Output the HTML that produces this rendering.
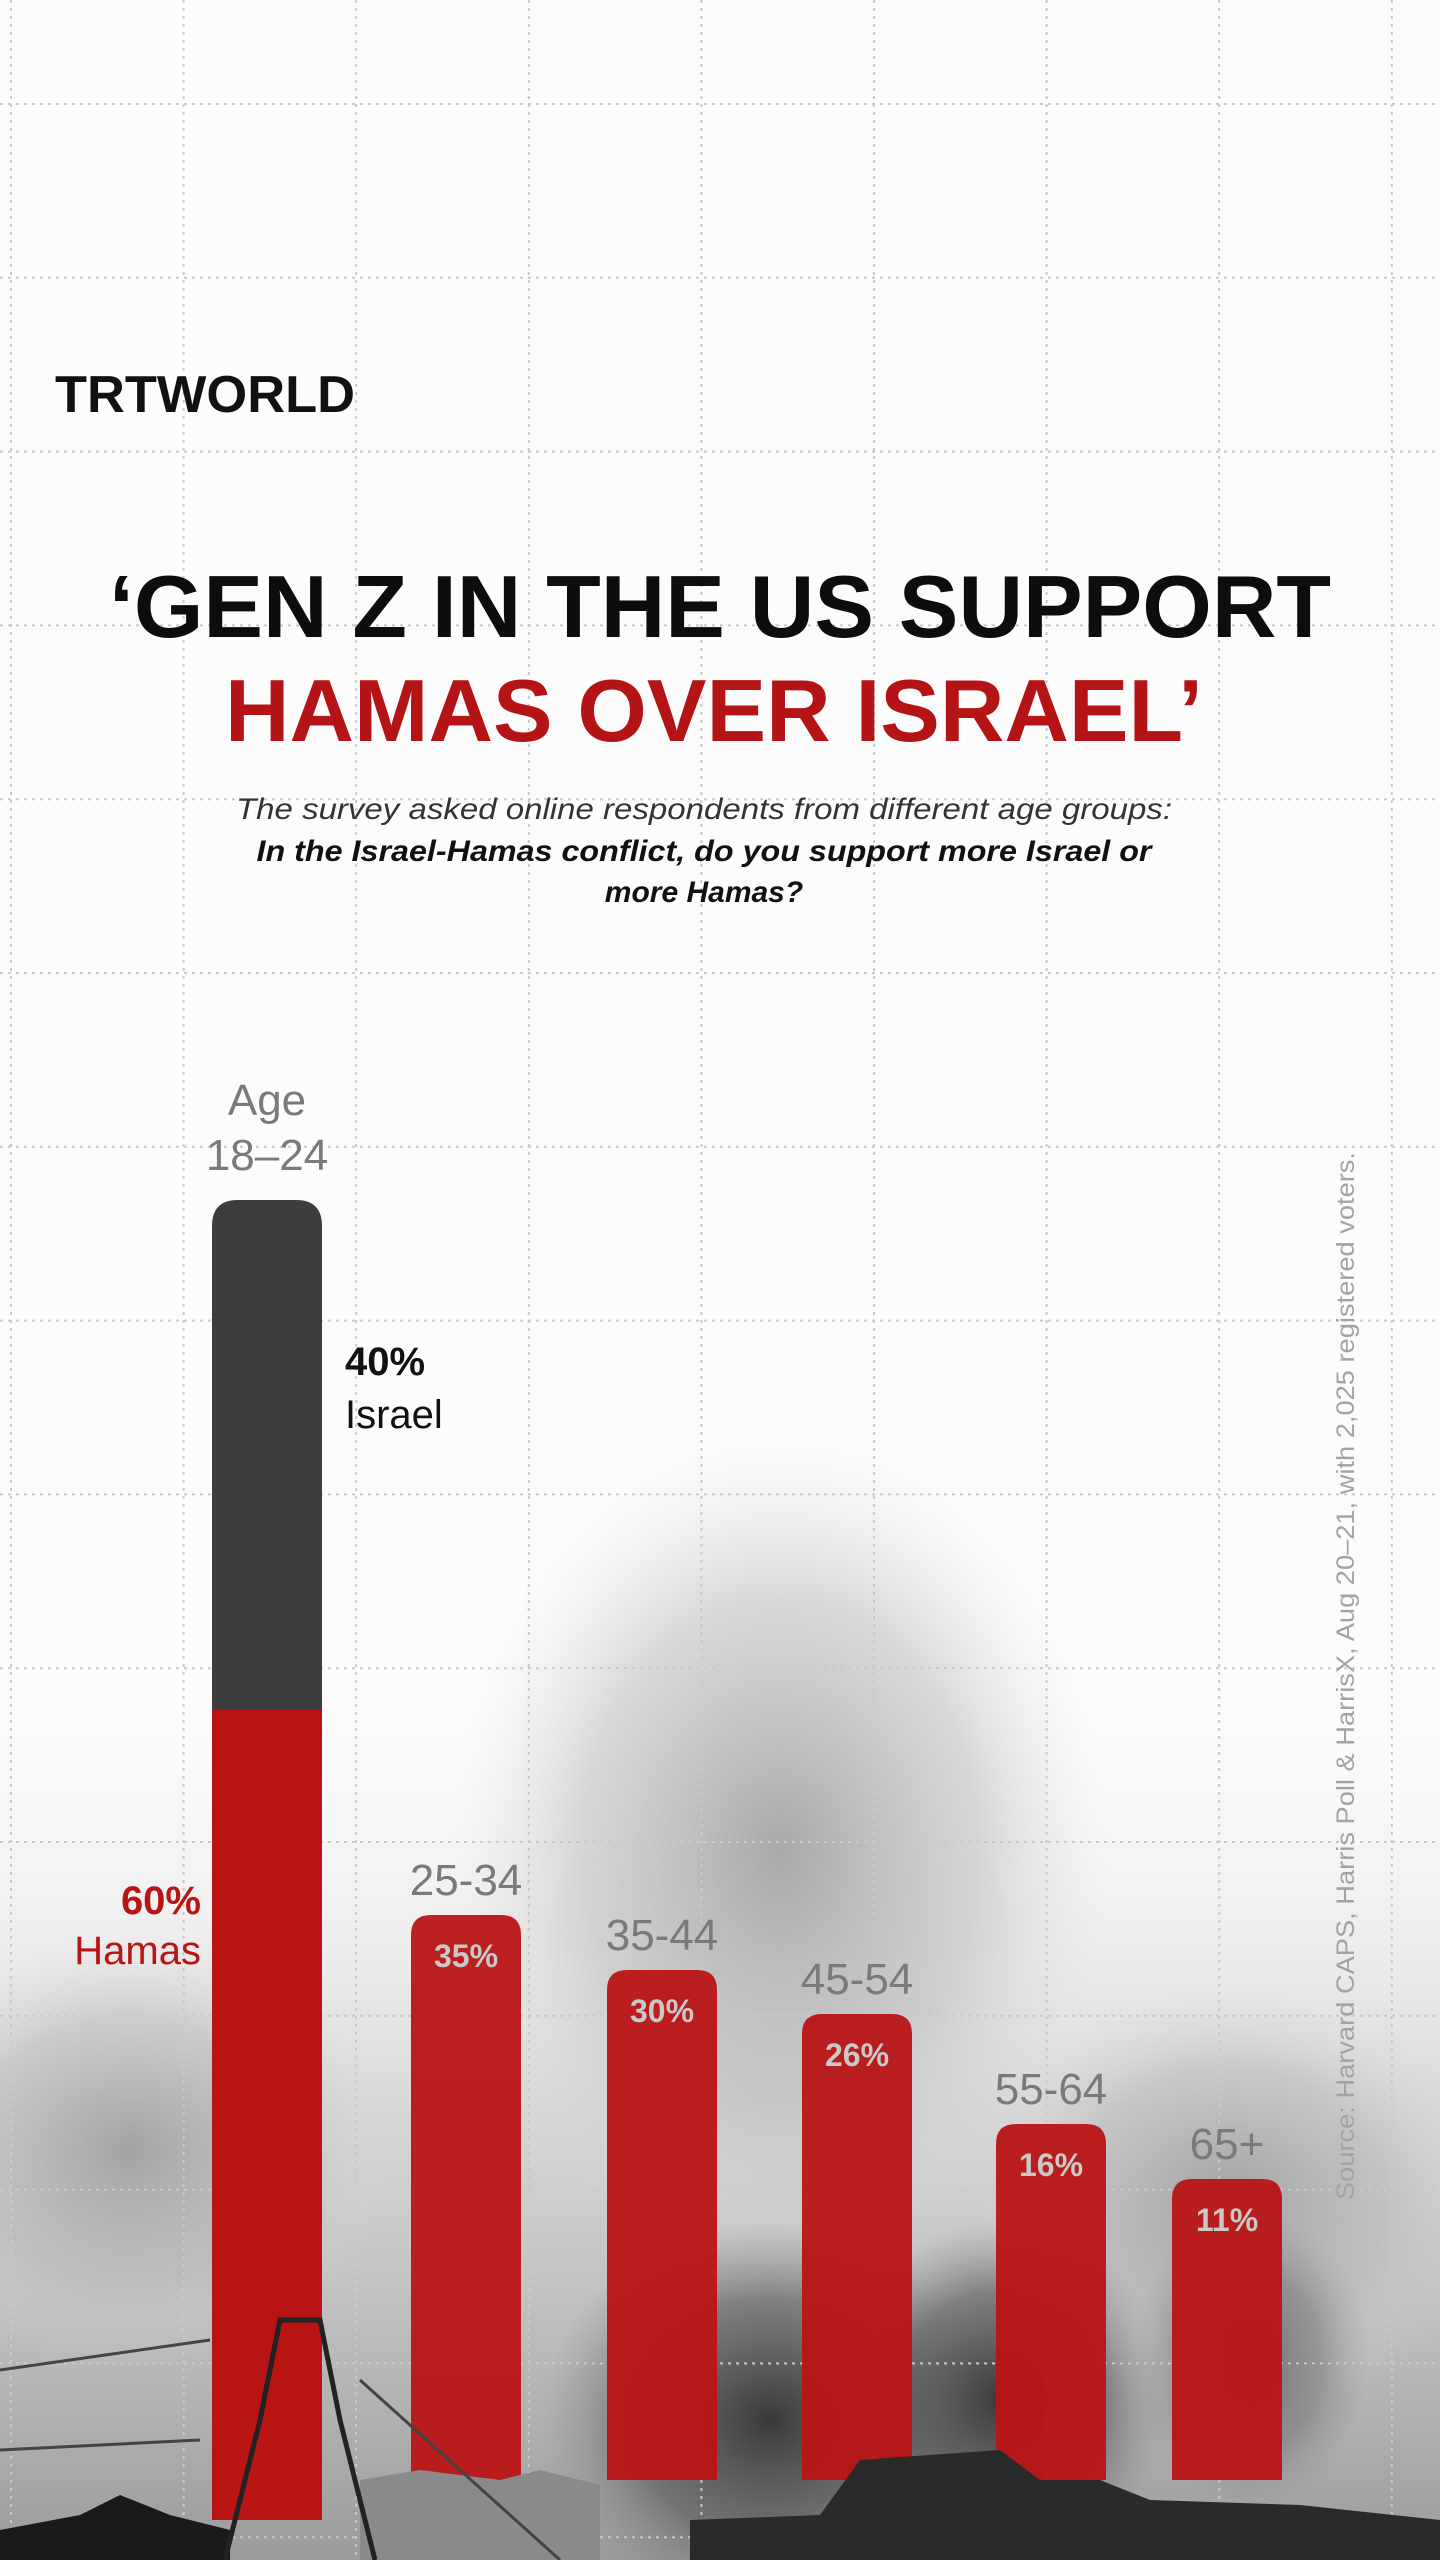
<!DOCTYPE html>
<html><head><meta charset="utf-8"><style>
html,body{margin:0;padding:0;}
body{width:1440px;height:2560px;position:relative;overflow:hidden;background:#fcfcfc;font-family:"Liberation Sans",sans-serif;}
svg{position:absolute;left:0;top:0;}
</style></head><body>
<svg id="chart" width="1440" height="2560" viewBox="0 0 1440 2560">
<defs>
<radialGradient id="smoke1" cx="0.5" cy="0.5" r="0.5"><stop offset="0" stop-color="#9a9a9a" stop-opacity="0.85"/><stop offset="0.6" stop-color="#b5b5b5" stop-opacity="0.5"/><stop offset="1" stop-color="#ddd" stop-opacity="0"/></radialGradient>
<radialGradient id="smoke2" cx="0.5" cy="0.5" r="0.5"><stop offset="0" stop-color="#333" stop-opacity="0.95"/><stop offset="0.6" stop-color="#555" stop-opacity="0.6"/><stop offset="1" stop-color="#888" stop-opacity="0"/></radialGradient>
<linearGradient id="sky" x1="0" y1="0" x2="0" y2="1"><stop offset="0" stop-color="#fcfcfc" stop-opacity="0"/><stop offset="0.5" stop-color="#c8c8c8" stop-opacity="0.7"/><stop offset="1" stop-color="#9a9a9a"/></linearGradient>
</defs>
<g id="bg">
<rect x="0" y="1650" width="1440" height="910" fill="url(#sky)"/>
<ellipse cx="130" cy="2150" rx="260" ry="220" fill="url(#smoke1)"/>
<ellipse cx="780" cy="1850" rx="330" ry="420" fill="url(#smoke1)"/>
<ellipse cx="1230" cy="2200" rx="260" ry="220" fill="url(#smoke1)"/>
<ellipse cx="770" cy="2420" rx="230" ry="200" fill="url(#smoke2)"/>
<ellipse cx="1000" cy="2400" rx="170" ry="180" fill="url(#smoke2)"/>
<ellipse cx="1250" cy="2360" rx="120" ry="150" fill="url(#smoke2)" opacity="0.6"/>
</g>
<g id="grid" stroke="#c9c9c9" stroke-width="2" stroke-dasharray="3 5"></g>
<text x="55" y="412" font-size="52" font-weight="bold" fill="#111" textLength="300" lengthAdjust="spacingAndGlyphs">TRTWORLD</text>
<text x="720" y="637" text-anchor="middle" font-size="88" font-weight="bold" fill="#0d0d0d" textLength="1222" lengthAdjust="spacingAndGlyphs">‘GEN Z IN THE US SUPPORT</text>
<text x="714" y="741" text-anchor="middle" font-size="88" font-weight="bold" fill="#b51416" textLength="978" lengthAdjust="spacingAndGlyphs">HAMAS OVER ISRAEL’</text>
<text x="704" y="819" text-anchor="middle" font-size="30" font-style="italic" fill="#333" textLength="936" lengthAdjust="spacingAndGlyphs">The survey asked online respondents from different age groups:</text>
<text x="704" y="861" text-anchor="middle" font-size="30" font-style="italic" font-weight="bold" fill="#111" textLength="895" lengthAdjust="spacingAndGlyphs">In the Israel-Hamas conflict, do you support more Israel or</text>
<text x="704" y="902" text-anchor="middle" font-size="30" font-style="italic" font-weight="bold" fill="#111">more Hamas?</text>
<g id="bars"></g>
<g id="ground" fill="#1a1a1a">
<path d="M0 2560 L0 2530 L80 2515 L120 2495 L170 2515 L230 2530 L230 2560 Z"/>
<path d="M360 2560 L360 2480 L420 2470 L500 2480 L540 2470 L600 2485 L600 2560 Z" fill="#8a8a8a"/>
<path d="M690 2560 L690 2520 L820 2515 L860 2460 L1000 2450 L1040 2480 L1100 2480 L1150 2500 L1300 2505 L1440 2520 L1440 2560 Z" fill="#2a2a2a"/>
<path d="M225 2560 L260 2420 L280 2320 L320 2320 L340 2420 L375 2560" fill="none" stroke="#222" stroke-width="5"/>
<path d="M0 2370 L210 2340 M0 2450 L200 2440 M360 2380 L560 2560" stroke="#444" stroke-width="3" fill="none"/>
</g>
<text transform="translate(1354,2200) rotate(-90)" font-size="25" fill="#a3a3a3" textLength="1048" lengthAdjust="spacingAndGlyphs">Source: Harvard CAPS, Harris Poll &amp; HarrisX, Aug 20–21, with 2,025 registered voters.</text>
</svg>
<script>
const categories = ["18–24", "25-34", "35-44", "45-54", "55-64", "65+"];
const hamasValues = [60, 35, 30, 26, 16, 11];
const israelValues = [40, 0, 0, 0, 0, 0];
const pctLabels = ["60%", "35%", "30%", "26%", "16%", "11%"];

const NS = "http://www.w3.org/2000/svg";
const svg = document.getElementById('chart');
const grid = document.getElementById('grid');
for (let i = 0; i < 9; i++) {
  const x = 11 + i * 172.6;
  const l = document.createElementNS(NS, 'line');
  l.setAttribute('x1', x); l.setAttribute('x2', x); l.setAttribute('y1', 0); l.setAttribute('y2', 2560);
  
  
  grid.appendChild(l);
}
for (let i = 0; i < 15; i++) {
  const y = 104 + i * 173.8;
  const l = document.createElementNS(NS, 'line');
  l.setAttribute('x1', 0); l.setAttribute('x2', 1440); l.setAttribute('y1', y); l.setAttribute('y2', y);
  
  
  grid.appendChild(l);
}
const barX = [212, 411, 607, 802, 996, 1172];
const barW = 110;
const base = 2300, k = 11, bottom = 2520;
function yScale(v) { return base - k * v; }
function rrect(x, y, w, h, r) {
  return `M${x} ${y + h} L${x} ${y + r} Q${x} ${y} ${x + r} ${y} L${x + w - r} ${y} Q${x + w} ${y} ${x + w} ${y + r} L${x + w} ${y + h} Z`;
}
const bars = document.getElementById('bars');
function txt(x, y, s, size, fill, weight, anchor, name) {
  const t = document.createElementNS(NS, 'text');
  t.setAttribute('x', x); t.setAttribute('y', y);
  t.setAttribute('font-size', size); t.setAttribute('fill', fill);
  t.setAttribute('font-weight', weight); t.setAttribute('text-anchor', anchor);
  t.textContent = s;
  
  
  bars.appendChild(t);
  return t;
}
categories.forEach((c, i) => {
  const x = barX[i];
  const total = hamasValues[i] + israelValues[i];
  const topY = yScale(total);
  if (israelValues[i] > 0) {
    const d = document.createElementNS(NS, 'path');
    d.setAttribute('d', rrect(x, topY, barW, yScale(hamasValues[i]) - topY + 70, 26));
    d.setAttribute('fill', '#3d3d3d');
    
    
    bars.appendChild(d);
    const hy = yScale(hamasValues[i]) + 70;
    const h = document.createElementNS(NS, 'rect');
    h.setAttribute('x', x); h.setAttribute('y', hy); h.setAttribute('width', barW); h.setAttribute('height', bottom - hy);
    h.setAttribute('fill', '#b81414');
    
    
    bars.appendChild(h);
    txt(x + barW / 2, topY - 85, 'Age', 44, '#7a7a7a', 'normal', 'middle', 'age-label-prefix');
    txt(x + barW / 2, topY - 30, c, 44, '#7a7a7a', 'normal', 'middle', 'age-label-' + c);
    txt(345, topY + 175, israelValues[i] + '%', 40, '#111', 'bold', 'start', 'israel-percent-label');
    txt(345, topY + 228, 'Israel', 40, '#111', 'normal', 'start', 'israel-series-label');
    txt(201, hy + 204, pctLabels[i], 40, '#b81414', 'bold', 'end', 'hamas-percent-label');
    txt(201, hy + 254, 'Hamas', 40, '#b81414', 'normal', 'end', 'hamas-series-label');
  } else {
    const h = document.createElementNS(NS, 'path');
    h.setAttribute('d', rrect(x, topY, barW, bottom - 40 - topY, 20));
    h.setAttribute('fill', '#b81414');
    h.setAttribute('opacity', '0.95');
    
    
    bars.appendChild(h);
    txt(x + barW / 2, topY - 20, c, 44, '#7a7a7a', 'normal', 'middle', 'age-label-' + c);
    txt(x + barW / 2, topY + 52, pctLabels[i], 32, '#c9c9c9', 'bold', 'middle', 'hamas-percent-' + c);
  }
});
svg.appendChild(document.getElementById('ground'));
</script>
</body></html>
